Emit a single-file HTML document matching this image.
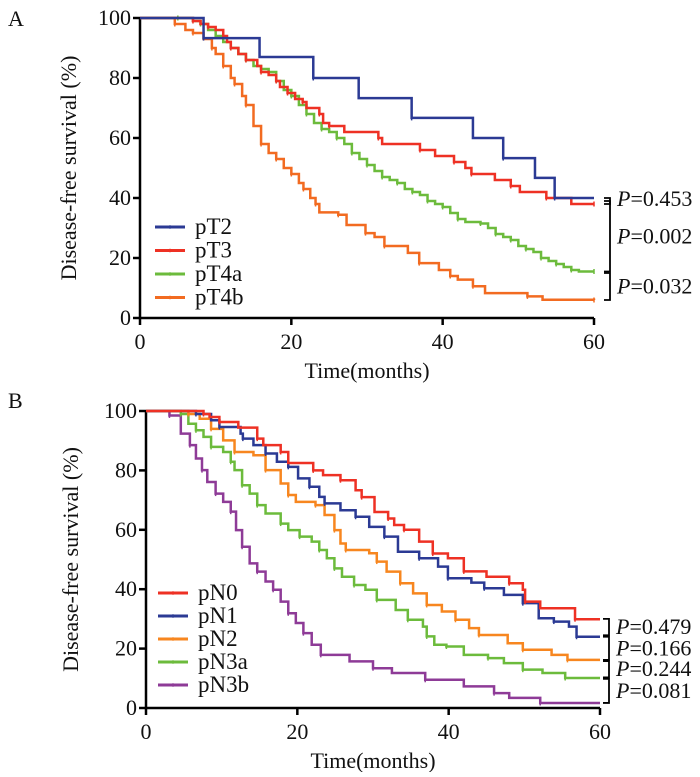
<!DOCTYPE html>
<html><head><meta charset="utf-8"><style>
body{margin:0;background:#fff;}
svg text{font-family:"Liberation Serif",serif;fill:#111;}
</style></head><body>
<svg id="chart" width="700" height="772" viewBox="0 0 700 772" xmlns="http://www.w3.org/2000/svg"></svg>
<script>
// Panel A data: [month, survival%] step points
const aNames = ["pT2","pT3","pT4a","pT4b"];
const aColors = ["#2b3a94","#ee3124","#6cbb3c","#f26b21"];
const aT2 = [[0,100],[8.4,93.3],[15.8,87],[22.9,80],[28.9,73.3],[35.9,66.7],[44,60],[48,53.3],[52.2,46.7],[54.8,40],[60,40]];
const aT3 = [[0,100],[7,99],[8,98],[9,97],[10,96],[11,94],[11.5,92],[12,90],[13,88],[14,86],[15.5,84],[16,82],[17,81],[18,79],[18.5,77],[19.5,75],[20.5,73],[21.5,72],[22,70],[23.7,68],[24.2,65],[25,64],[27,62],[31.5,60],[32,58],[37,56],[39,54],[41.5,52],[43,50],[43.8,48],[46.9,46],[49,44],[50.2,42],[53.7,40],[57,38],[60,38]];
const aT4a = [[0,100],[5,100],[7,99],[8,98],[9,96],[10,94],[11,92],[12,90],[13,88],[14,86],[15,84],[16,83],[17,82],[18,79],[19,76],[20,74],[21,71],[22,68],[23,65],[24,63],[25,62],[26,60],[27,58],[28,55],[29,53],[30,51],[31,49],[32,47],[33,46],[34,45],[35,43],[36,42],[37,41],[38,39],[39,38],[40,37],[41,35],[42,33],[43,32],[45,31.5],[46,30],[47,28],[48,27],[49,26],[50,24],[51,23],[52,22],[53,20],[54,19],[55,18],[56,17],[57,16],[58,15.5],[60,15.5]];
const aT4b = [[0,100],[4.6,98],[6,96],[7,95],[8.4,93],[9.5,90],[10,88],[11,84],[12,80],[12.5,78],[13.5,74],[14,71],[15,64],[16,58],[17,55],[18,53],[19,50],[20,48],[21,45],[21.6,43],[22.5,40],[23.2,38],[23.7,35.2],[26.2,34.4],[27.3,31],[29.8,28.3],[31,27],[32.3,24],[35.4,21.7],[36.9,18.3],[39.5,16],[41,14],[42,12.8],[44,10.6],[45.6,8.3],[51.2,7.2],[53.2,6.1],[60,6]];
const aSeries = [aT2,aT3,aT4a,aT4b];
const aPvals = ["0.453","0.002","0.032"];

// Panel B data
const bNames = ["pN0","pN1","pN2","pN3a","pN3b"];
const bColors = ["#ee3124","#2b3a94","#f7861f","#6cbb3c","#8e3b97"];
const bN0 = [[0,100],[7.6,99],[8.4,98],[9.7,96.3],[12.2,94.4],[14.7,90.7],[15.5,88.5],[17.8,86.2],[18.8,82.5],[22.1,80],[23.4,78.4],[25.7,76.7],[27.7,73.3],[28.5,71],[30.2,66],[32,63.8],[32.8,61.6],[34.1,60],[36.1,56],[37.9,52],[39.9,50.4],[42,46],[45,44.2],[48,42],[49.8,39.8],[50.1,35.8],[52.1,33.6],[56.7,29.9],[60,29.9]];
const bN1 = [[0,100],[6.6,99],[8.6,96.9],[9.7,94.6],[12.5,92.4],[12.8,90.7],[14.2,88.5],[15.8,85.7],[17.3,82.9],[18.8,81.2],[20.1,77.3],[21.6,74.5],[22.9,71.1],[23.6,68.9],[25.7,66.6],[27.7,64.4],[29.5,61],[31.5,57.7],[33.3,52.6],[36.1,50.4],[38.6,47.6],[39.9,43.7],[43,42.2],[44.7,40.3],[47.3,38.1],[49.8,35.3],[51.9,30.2],[53.9,29.1],[55.9,27.4],[56.9,24],[60,24]];
const bN2 = [[0,100],[5.6,99],[7.1,97.4],[8.6,94],[10.2,90.1],[11.7,86.2],[14.2,85.1],[15.8,80.1],[17.8,75.6],[18.8,71.7],[19.8,69.4],[22.4,68.3],[23.6,65],[24.9,59.9],[25.7,55.4],[26.4,53.2],[29.5,52.1],[30.5,49.3],[31.8,45.9],[33.6,42],[35.3,38.6],[37.1,34.7],[39.1,32.5],[40.9,29.7],[42.7,26.9],[44,24.6],[47.8,21.8],[49.8,19.6],[53.6,17.9],[55.7,16.2],[60,16.2]];
const bN3a = [[0,100],[4.6,99],[5.6,95.7],[6.6,93.5],[7.6,91.3],[8.6,87.9],[10.2,86.2],[11.2,82.9],[11.7,80.1],[12.7,75],[13.7,72.2],[14.7,68.3],[15.8,65.5],[17.8,62.1],[18.8,59.9],[20.3,57.7],[21.9,56],[22.9,53.2],[23.9,50.4],[24.9,47],[25.9,44.2],[27.5,41.4],[29,39.8],[30.5,36.4],[33,33],[34.6,29.7],[36.6,27.4],[37.1,24.1],[38.1,21.3],[39.7,20.7],[42,17.9],[45.2,16.8],[47.3,15.1],[49.8,12.9],[52.4,11.8],[55.4,10.1],[60,10.1]];
const bN3b = [[0,100],[3.1,98.5],[4.6,92.4],[5.8,88.5],[6.6,84],[7.4,80.1],[8.1,76.1],[9.2,72.2],[10.2,69.4],[11.2,66.1],[11.9,59.9],[12.7,54.3],[13.7,48.7],[14.7,45.9],[15.8,42.6],[16.8,39.8],[17.8,35.8],[18.8,31.9],[19.8,28.6],[20.8,25.2],[21.9,21.3],[23.1,17.9],[26.9,15.7],[30,13.4],[32.5,11.8],[36.9,9.5],[42,7.3],[46,5],[48,3.4],[52.1,1.7],[60,1.7]];
const bSeries = [bN0,bN1,bN2,bN3a,bN3b];
const bPvals = ["0.479","0.166","0.244","0.081"];

const xTicks = [0,20,40,60];
const yTicks = [0,20,40,60,80,100];

const svg = document.getElementById('chart');
const NS = "http://www.w3.org/2000/svg";
function mk(tag, attrs, parent){const e=document.createElementNS(NS,tag);for(const k in attrs)e.setAttribute(k,attrs[k]);(parent||svg).appendChild(e);return e;}

function panel(cfg){
  const g = mk('g',{});
  
  
  const X = m => cfg.x0 + (m/60)*(cfg.x1-cfg.x0);
  const Y = v => cfg.y0 - (v/100)*(cfg.y0-cfg.y1);
  const L = mk('text',{x:cfg.lx,y:cfg.ly,'font-size':22},g); L.textContent=cfg.letter;
  
  
  const ax = mk('path',{d:`M${X(0)},${Y(100)-1}V${Y(0)}H${X(60)}`,stroke:'#000','stroke-width':2.5,fill:'none'},g);
  
  
  yTicks.forEach(t=>{
    mk('line',{x1:X(0)-7,x2:X(0),y1:Y(t),y2:Y(t),stroke:'#000','stroke-width':2.5},g);
    const tx = mk('text',{x:X(0)-9,y:Y(t)+7,'font-size':22,'text-anchor':'end'},g); tx.textContent=t;
    
    
  });
  xTicks.forEach(t=>{
    mk('line',{x1:X(t),x2:X(t),y1:Y(0),y2:Y(0)+7,stroke:'#000','stroke-width':2.5},g);
    const tx = mk('text',{x:X(t),y:Y(0)+31,'font-size':22,'text-anchor':'middle'},g); tx.textContent=t;
    
    
  });
  const xt = mk('text',{x:(X(0)+X(60))/2,y:Y(0)+60,'font-size':22,'text-anchor':'middle'},g); xt.textContent='Time(months)';
  
  
  const yc=(Y(0)+Y(100))/2;
  const yt = mk('text',{x:cfg.ytx,y:yc,'font-size':22,'text-anchor':'middle',transform:`rotate(-90 ${cfg.ytx} ${yc})`},g); yt.textContent='Disease-free survival (%)';
  
  
  for(let i=cfg.series.length-1;i>=0;i--){
    const s=cfg.series[i]; let d=`M${X(s[0][0])},${Y(s[0][1])}`;
    for(let j=1;j<s.length;j++){d+=`H${X(s[j][0])}V${Y(s[j][1])}`;}
    const p=mk('path',{d,stroke:cfg.colors[i],'stroke-width':2.5,fill:'none'},g);
    
    
    s.forEach((pt,j)=>{ if(j%2===1) mk('line',{x1:X(pt[0]),x2:X(pt[0]),y1:Y(pt[1])-2.5,y2:Y(pt[1])+2.5,stroke:cfg.colors[i],'stroke-width':1.5},g); });
  }
  cfg.names.forEach((n,i)=>{
    const y=cfg.legY+i*cfg.legDy;
    const lg=mk('g',{},g);
    
    
    mk('line',{x1:cfg.legX,x2:cfg.legX+30,y1:y,y2:y,stroke:cfg.colors[i],'stroke-width':3},lg);
    mk('circle',{cx:cfg.legX+15,cy:y,r:1.8,fill:cfg.colors[i]},lg);
    const t=mk('text',{x:cfg.legX+40,y:y+7,'font-size':23},lg); t.textContent=n;
  });
  cfg.brackets.forEach((b,i)=>{
    const ya=Y(b[0]), yb=Y(b[1]), bx=cfg.bx;
    const br=mk('path',{d:`M${bx-6},${ya}H${bx}V${yb}H${bx-6}`,stroke:'#000','stroke-width':1.8,fill:'none'},g);
    
    
    const t=mk('text',{x:bx+7,y:(ya+yb)/2+7+cfg.poff[i],'font-size':22},g);
    
    
    const it=document.createElementNS(NS,'tspan'); it.setAttribute('font-style','italic'); it.textContent='P'; t.appendChild(it);
    t.appendChild(document.createTextNode('='+cfg.pvals[i]));
  });
}

panel({id:'panel-a',letter:'A',lx:8,ly:26,x0:140,x1:594,y0:318,y1:18,ytx:76,
  series:aSeries,colors:aColors,names:aNames,legX:155,legY:227,legDy:23.5,
  bx:610,brackets:[[40,38],[39,15.5],[15,6]],pvals:aPvals,poff:[-2,0,0]});
panel({id:'panel-b',letter:'B',lx:8,ly:408,x0:146,x1:600,y0:708,y1:411,ytx:78,
  series:bSeries,colors:bColors,names:bNames,legX:158,legY:593,legDy:23,
  bx:609,brackets:[[30,24.5],[24,16.2],[15.8,10.3],[9.8,1.7]],pvals:bPvals,poff:[0,0,0,0]});
</script>
</body></html>
